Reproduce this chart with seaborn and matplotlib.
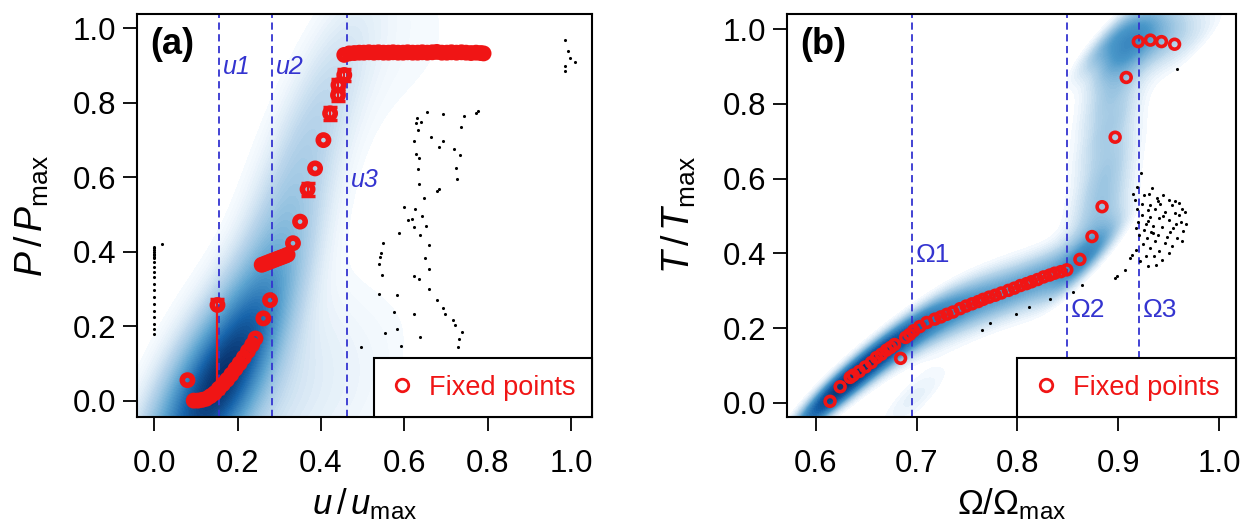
import numpy as np
import pandas as pd
import matplotlib
matplotlib.use("Agg")
import matplotlib.pyplot as plt
from matplotlib.lines import Line2D
from matplotlib.colors import LinearSegmentedColormap
import seaborn as sns

sns.set_theme(style="white")
plt.rcParams['font.family'] = ['Liberation Sans', 'DejaVu Sans']
plt.rcParams['mathtext.fontset'] = 'custom'
plt.rcParams['mathtext.rm'] = 'Liberation Sans'
plt.rcParams['mathtext.it'] = 'Liberation Sans:italic'
plt.rcParams['mathtext.bf'] = 'Liberation Sans:bold'
plt.rcParams['text.color'] = 'black'
plt.rcParams['axes.labelcolor'] = 'black'

# ---------------- Panel (a) data ----------------
a_fixed_x = [0.080, 0.095, 0.105, 0.115, 0.125, 0.135, 0.145, 0.155, 0.165, 0.175, 0.185,
             0.195, 0.205, 0.215, 0.225, 0.235, 0.243, 0.262, 0.278,
             0.258, 0.265, 0.272, 0.279, 0.286, 0.293, 0.300, 0.307, 0.314, 0.320,
             0.333, 0.350, 0.386, 0.406,
             0.456, 0.468, 0.480, 0.492, 0.503, 0.515, 0.527, 0.538, 0.550, 0.562,
             0.573, 0.585, 0.597, 0.608, 0.620, 0.632, 0.643, 0.655, 0.667, 0.678,
             0.690, 0.702, 0.713, 0.725, 0.737, 0.748, 0.760, 0.772, 0.783, 0.790]
a_fixed_y = [0.055, 0.000, 0.000, 0.002, 0.005, 0.012, 0.020, 0.032, 0.044, 0.056, 0.070,
             0.085, 0.100, 0.116, 0.133, 0.150, 0.167, 0.221, 0.270,
             0.365, 0.368, 0.371, 0.374, 0.377, 0.380, 0.383, 0.386, 0.389, 0.392,
             0.423, 0.481, 0.624, 0.700,
             0.929, 0.933, 0.934, 0.935, 0.935, 0.936, 0.935, 0.936, 0.935, 0.935,
             0.936, 0.935, 0.935, 0.936, 0.935, 0.935, 0.936, 0.935, 0.936, 0.937,
             0.935, 0.935, 0.936, 0.935, 0.936, 0.935, 0.934, 0.935, 0.934, 0.933]
a_err_x = [0.152, 0.368, 0.422, 0.441, 0.442, 0.456]
a_err_y = [0.257, 0.568, 0.772, 0.821, 0.848, 0.875]
a_err_lo = [0.237, 0.017, 0.017, 0.017, 0.017, 0.017]
a_err_hi = [0.017, 0.017, 0.017, 0.017, 0.017, 0.017]

a_dots_x = [0.655, 0.692, 0.743, 0.772, 0.776, 0.630, 0.628, 0.640, 0.632, 0.735, 0.624, 0.663,
            0.692, 0.683, 0.719, 0.627, 0.634, 0.734, 0.632, 0.723, 0.726, 0.634, 0.682, 0.678,
            0.646, 0.600, 0.626, 0.643, 0.609, 0.618, 0.653, 0.622, 0.587, 0.637, 0.549, 0.659,
            0.544, 0.541, 0.540, 0.650, 0.659, 0.546, 0.623, 0.635, 0.659, 0.540, 0.583, 0.679,
            0.693, 0.698, 0.576, 0.622, 0.717, 0.722, 0.582, 0.554, 0.738, 0.638, 0.730, 0.497,
            0.592, 0.728,
            0.986, 0.993, 0.998, 0.985, 1.010, 0.985,
            0.018, 0.0, 0.0, 0.0, 0.0, 0.0, 0.0, 0.0, 0.0, 0.0, 0.0, 0.0, 0.0, 0.0, 0.0,
            0.0, 0.0, 0.0, 0.0, 0.0, 0.0, 0.0]
a_dots_y = [0.776, 0.770, 0.766, 0.774, 0.777, 0.759, 0.745, 0.749, 0.727, 0.734, 0.698, 0.708,
            0.697, 0.681, 0.676, 0.664, 0.653, 0.660, 0.622, 0.624, 0.596, 0.583, 0.568, 0.564,
            0.545, 0.521, 0.514, 0.496, 0.485, 0.487, 0.470, 0.466, 0.450, 0.445, 0.424, 0.418,
            0.397, 0.385, 0.367, 0.382, 0.355, 0.337, 0.335, 0.327, 0.300, 0.286, 0.284, 0.270,
            0.250, 0.234, 0.238, 0.233, 0.217, 0.202, 0.193, 0.181, 0.184, 0.170, 0.165, 0.145,
            0.147, 0.145,
            0.968, 0.940, 0.922, 0.899, 0.909, 0.886,
            0.421, 0.413, 0.409, 0.404, 0.400, 0.395, 0.391, 0.386, 0.382, 0.373, 0.359, 0.346,
            0.332, 0.314, 0.296, 0.278, 0.260, 0.242, 0.224, 0.206, 0.193, 0.179]

# density support points (read along the shaded band)
a_dens_x = [0.04, 0.08, 0.12, 0.16, 0.20, 0.10, 0.15, 0.20, 0.22, 0.25, 0.26, 0.28, 0.29, 0.30,
            0.32, 0.34, 0.36, 0.38, 0.39, 0.41, 0.44, 0.50, 0.57, 0.64, 0.72, 0.80,
            0.27, 0.34, 0.41, 0.48, 0.54]
a_dens_y = [-0.02, -0.01, 0.00, 0.01, 0.02, 0.05, 0.06, 0.08, 0.14, 0.20, 0.26, 0.33, 0.40, 0.47,
            0.54, 0.61, 0.68, 0.75, 0.82, 0.88, 0.93, 0.94, 0.94, 0.94, 0.94, 0.94,
            0.00, 0.01, 0.01, 0.01, 0.01]
a_dens_w = [4.0, 5.5, 6.5, 6.0, 5.0, 3.5, 4.0, 3.6, 3.0, 2.6, 2.2, 1.9, 1.7, 1.5,
            1.35, 1.2, 1.05, 0.95, 0.85, 0.8, 0.75, 0.6, 0.48, 0.38, 0.28, 0.2,
            2.2, 1.6, 1.1, 0.7, 0.45]

a_lines = [0.155, 0.282, 0.462]
a_line_labels = ["u1", "u2", "u3"]
a_label_y = [0.897, 0.897, 0.593]

# ---------------- Panel (b) data ----------------
b_fixed_x = [0.614, 0.624, 0.634, 0.637, 0.643, 0.649, 0.655, 0.660, 0.665, 0.670, 0.674,
             0.678, 0.684, 0.689, 0.693, 0.697, 0.703, 0.710, 0.718, 0.724, 0.730, 0.736,
             0.743, 0.749, 0.755, 0.761, 0.766, 0.772, 0.778, 0.784, 0.791, 0.797, 0.803,
             0.809, 0.814, 0.820, 0.826, 0.832, 0.837, 0.843, 0.849, 0.862,
             0.874, 0.884, 0.897, 0.908, 0.920, 0.932, 0.943, 0.956]
b_fixed_y = [0.004, 0.043, 0.068, 0.074, 0.084, 0.096, 0.108, 0.121, 0.130, 0.141, 0.148,
             0.156, 0.119, 0.175, 0.183, 0.193, 0.204, 0.215, 0.224, 0.230, 0.237, 0.243,
             0.252, 0.259, 0.265, 0.271, 0.277, 0.283, 0.288, 0.294, 0.301, 0.307, 0.314,
             0.319, 0.324, 0.330, 0.337, 0.342, 0.347, 0.351, 0.356, 0.384,
             0.445, 0.525, 0.711, 0.871, 0.967, 0.971, 0.967, 0.960]

b_dots_x = [0.7645, 0.7727, 0.799, 0.811, 0.832, 0.855, 0.864, 0.897, 0.899, 0.907, 0.912, 0.914,
            0.958,
            0.923, 0.919, 0.934, 0.915, 0.926, 0.931, 0.945, 0.939, 0.950, 0.956, 0.960, 0.917,
            0.924, 0.942, 0.953, 0.963, 0.966, 0.919, 0.930, 0.937, 0.946, 0.956, 0.960, 0.924,
            0.932, 0.941, 0.950, 0.962, 0.967, 0.920, 0.928, 0.935, 0.944, 0.954, 0.964, 0.918,
            0.926, 0.933, 0.940, 0.948, 0.958, 0.963, 0.921, 0.929, 0.937, 0.946, 0.953, 0.925,
            0.932, 0.941, 0.950, 0.918, 0.936, 0.928, 0.944, 0.922, 0.930, 0.938, 0.935, 0.930,
            0.945, 0.951, 0.957, 0.940, 0.932]
b_dots_y = [0.195, 0.214, 0.238, 0.257, 0.277, 0.297, 0.315, 0.333, 0.340, 0.355, 0.389, 0.395,
            0.894,
            0.615, 0.578, 0.574, 0.560, 0.556, 0.560, 0.556, 0.548, 0.543, 0.540, 0.536, 0.543,
            0.533, 0.533, 0.529, 0.520, 0.512, 0.520, 0.516, 0.520, 0.512, 0.508, 0.503, 0.503,
            0.498, 0.494, 0.490, 0.485, 0.478, 0.485, 0.478, 0.474, 0.471, 0.467, 0.460, 0.467,
            0.462, 0.456, 0.449, 0.445, 0.441, 0.432, 0.449, 0.441, 0.432, 0.427, 0.420, 0.424,
            0.414, 0.407, 0.400, 0.410, 0.394, 0.392, 0.382, 0.380, 0.365, 0.370, 0.455, 0.487,
            0.500, 0.458, 0.478, 0.540, 0.530]

b_dens_x = [0.597, 0.607, 0.617, 0.627, 0.637, 0.647, 0.657, 0.667, 0.677, 0.687, 0.697,
            0.707, 0.717, 0.727, 0.737, 0.747, 0.757, 0.767, 0.777, 0.787, 0.797, 0.807,
            0.817, 0.827, 0.837, 0.847, 0.857, 0.867,
            0.875, 0.878, 0.880, 0.882, 0.884, 0.886, 0.888, 0.889, 0.890, 0.892, 0.893,
            0.895, 0.897, 0.899,
            0.890, 0.900, 0.910, 0.920, 0.930, 0.940, 0.950, 0.960, 0.970, 0.980,
            0.690, 0.705]
b_dens_y = [-0.015, 0.005, 0.025, 0.048, 0.070, 0.092, 0.113, 0.133, 0.152, 0.170, 0.188,
            0.204, 0.218, 0.231, 0.243, 0.254, 0.265, 0.275, 0.285, 0.295, 0.305, 0.315,
            0.325, 0.334, 0.343, 0.352, 0.362, 0.375,
            0.40, 0.44, 0.48, 0.52, 0.56, 0.60, 0.64, 0.68, 0.72, 0.76, 0.80,
            0.84, 0.88, 0.92,
            0.975, 0.978, 0.978, 0.977, 0.975, 0.973, 0.971, 0.969, 0.967, 0.966,
            0.015, 0.015]
b_dens_w = [3, 4, 5, 5, 5, 5, 4.5, 4.5, 4, 4, 3.5,
            3, 3, 2.8, 2.6, 2.5, 2.4, 2.3, 2.2, 2.2, 2.2, 2.2,
            2.2, 2.2, 2.2, 2.2, 2.2, 2.2,
            2.4, 2.4, 2.2, 2.2, 2.1, 2.1, 2.0, 2.0, 2.0, 2.0, 2.0,
            2.0, 1.9, 1.8,
            2.5, 3.5, 4, 3.5, 3, 2.4, 1.8, 1.3, 0.9, 0.5,
            0.8, 0.8]

b_lines = [0.6956, 0.8494, 0.9206]
b_line_labels = ["Ω1", "Ω2", "Ω3"]
b_label_y = [0.396, 0.248, 0.248]

# ---------------- Styling ----------------
RED = "#f01515"
LBLUE = "#3434d0"
TICK_FS = 22.5
LAB_FS = 27
XLAB_FS = 25

_bl = plt.get_cmap("Blues")
DENS_CMAP_A = LinearSegmentedColormap.from_list(
    "densa", [(0.0, _bl(0.0)), (0.15, _bl(0.28)), (0.45, _bl(0.55)),
              (0.75, _bl(0.80)), (1.0, _bl(1.0))])
DENS_CMAP_B = LinearSegmentedColormap.from_list(
    "densb", [(0.0, _bl(0.0)), (0.10, _bl(0.30)), (0.30, _bl(0.60)),
              (0.60, _bl(0.82)), (1.0, _bl(1.0))])

fig = plt.figure(figsize=(12.5, 5.31), dpi=100)
ax1 = fig.add_axes([0.1096, 0.2147, 0.364, 0.759])
ax2 = fig.add_axes([0.6298, 0.2147, 0.3587, 0.759])


def style_axes(ax):
    for sp in ax.spines.values():
        sp.set_visible(True)
        sp.set_color("black")
        sp.set_linewidth(1.5)
    ax.tick_params(axis="both", which="major", direction="out", length=10, width=1.3,
                   color="black", labelsize=TICK_FS, labelcolor="black",
                   left=True, bottom=True, top=False, right=False)
    ax.tick_params(axis="y", pad=5)
    ax.tick_params(axis="x", pad=13)
    ax.grid(False)
    ax.set_facecolor("white")


# ----- Panel (a) -----
sns.kdeplot(x=a_dens_x, y=a_dens_y, weights=a_dens_w, fill=True, cmap=DENS_CMAP_A,
            levels=60, thresh=0.035, bw_adjust=1.08, gridsize=200, ax=ax1, zorder=0)
for xv, lab, ly in zip(a_lines, a_line_labels, a_label_y):
    ax1.axvline(xv, color=LBLUE, ls=(0, (4, 2.5)), lw=1.3, zorder=1)
    ax1.text(xv + 0.01, ly, lab, color=LBLUE, fontsize=18, fontstyle="italic",
             va="center", ha="left", zorder=2)
sns.scatterplot(x=a_dots_x, y=a_dots_y, ax=ax1, s=5, color="black", linewidth=0, zorder=2)
ax1.errorbar(a_err_x, a_err_y, yerr=[a_err_lo, a_err_hi], fmt="none", ecolor=RED,
             elinewidth=1.6, capsize=5, capthick=2.5, zorder=3)
sns.scatterplot(x=a_fixed_x + a_err_x, y=a_fixed_y + a_err_y, ax=ax1, marker="o", s=55,
                facecolor="none", edgecolor=RED, linewidth=4.0, zorder=4)
ax1.set_xlim(-0.041, 1.050)
ax1.set_ylim(-0.044, 1.039)
ax1.set_xticks([0.0, 0.2, 0.4, 0.6, 0.8, 1.0])
ax1.set_xticklabels(["0.0", "0.2", "0.4", "0.6", "0.8", "1.0"])
ax1.set_yticks([0.0, 0.2, 0.4, 0.6, 0.8, 1.0])
ax1.set_yticklabels(["0.0", "0.2", "0.4", "0.6", "0.8", "1.0"])
style_axes(ax1)
ax1.set_xlabel(r"$u\,/\,u_{\mathrm{max}}$", fontsize=XLAB_FS, color="black")
ax1.set_ylabel(r"$P\,/\,P_{\mathrm{max}}$", fontsize=LAB_FS, color="black")
ax1.xaxis.set_label_coords(0.5, -0.172)
ax1.yaxis.set_label_coords(-0.19, 0.5)
ax1.text(0.029, 0.968, "(a)", transform=ax1.transAxes, fontsize=26, fontweight="bold",
         va="top", ha="left", color="black", zorder=5)

# ----- Panel (b) -----
sns.kdeplot(x=b_dens_x, y=b_dens_y, weights=b_dens_w, fill=True, cmap=DENS_CMAP_B,
            levels=60, thresh=0.025, bw_adjust=0.34, gridsize=250, ax=ax2, zorder=0)
for xv, lab, ly in zip(b_lines, b_line_labels, b_label_y):
    ax2.axvline(xv, color=LBLUE, ls=(0, (4, 2.5)), lw=1.3, zorder=1)
    ax2.text(xv + 0.004, ly, lab, color=LBLUE, fontsize=19,
             va="center", ha="left", zorder=2)
sns.scatterplot(x=b_dots_x, y=b_dots_y, ax=ax2, s=5, color="black", linewidth=0, zorder=2)
sns.scatterplot(x=b_fixed_x, y=b_fixed_y, ax=ax2, marker="o", s=50,
                facecolor="none", edgecolor=RED, linewidth=2.6, zorder=4)
ax2.set_xlim(0.5715, 1.0166)
ax2.set_ylim(-0.038, 1.041)
ax2.set_xticks([0.6, 0.7, 0.8, 0.9, 1.0])
ax2.set_xticklabels(["0.6", "0.7", "0.8", "0.9", "1.0"])
ax2.set_yticks([0.0, 0.2, 0.4, 0.6, 0.8, 1.0])
ax2.set_yticklabels(["0.0", "0.2", "0.4", "0.6", "0.8", "1.0"])
style_axes(ax2)
ax2.set_xlabel(r"$\mathrm{\Omega}/\mathrm{\Omega}_{\mathrm{max}}$", fontsize=XLAB_FS, color="black")
ax2.set_ylabel(r"$T\,/\,T_{\mathrm{max}}$", fontsize=LAB_FS, color="black")
ax2.xaxis.set_label_coords(0.5, -0.172)
ax2.yaxis.set_label_coords(-0.20, 0.5)
ax2.text(0.029, 0.968, "(b)", transform=ax2.transAxes, fontsize=26, fontweight="bold",
         va="top", ha="left", color="black", zorder=5)

# ----- Legends -----
for ax in (ax1, ax2):
    h = Line2D([], [], marker="o", ls="none", mec=RED, mfc="none", ms=9, mew=2)
    leg = ax.legend([h], ["Fixed points"], loc="lower right", borderaxespad=0,
                    frameon=True, fancybox=False, edgecolor="black", framealpha=1,
                    fontsize=19.5, labelcolor=RED, handlelength=0.9, handletextpad=0.55,
                    borderpad=0.6)
    leg.get_frame().set_linewidth(1.5)
    leg.set_zorder(6)

fig.savefig("out.png", dpi=100)
